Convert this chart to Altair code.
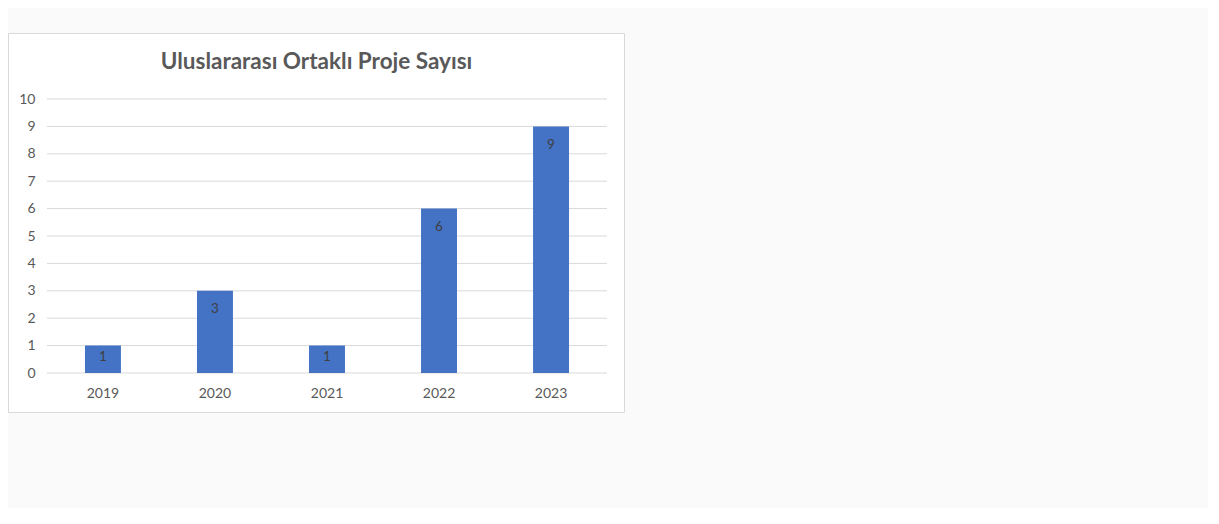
import altair as alt
import pandas as pd

years = ["2019", "2020", "2021", "2022", "2023"]
counts = [1, 3, 1, 6, 9]
tick_values = list(range(0, 11))
title_text = "Uluslararası Ortaklı Proje Sayısı"

FONT = "Lato"
GRAY = "#595959"

df = pd.DataFrame({"year": years, "count": counts})
grid_df = pd.DataFrame({"v": tick_values})
one = pd.DataFrame({"k": [0]})

yscale = alt.Scale(domain=[0, 10], nice=False)
yaxis = alt.Axis(title=None, values=tick_values, grid=False, domain=False, ticks=False,
                 labelPadding=12, labelFont=FONT, labelFontSize=14, labelColor=GRAY, zindex=2)
xaxis = alt.Axis(title=None, labelAngle=0, ticks=False, domain=False, labelPadding=13,
                 labelFont=FONT, labelFontSize=14, labelColor=GRAY, zindex=2)
xscale = alt.Scale(paddingInner=0.679, paddingOuter=0.339)

box = alt.Chart(one).mark_rect(fill="white", stroke="#d9d9d9", strokeWidth=1).encode(
    x=alt.value(-38.5), x2=alt.value(577.5), y=alt.value(-65.5), y2=alt.value(313.5)
)

grid = alt.Chart(grid_df).mark_rule(color="#d9d9d9", strokeWidth=1).encode(
    y=alt.Y("v:Q", scale=yscale, axis=yaxis)
)

bars = alt.Chart(df).mark_bar(color="#4472C4").encode(
    x=alt.X("year:N", sort=years, scale=xscale, axis=xaxis),
    y=alt.Y("count:Q", scale=yscale, axis=yaxis),
)

labels = alt.Chart(df).transform_calculate(
    lp="max(datum.count - 0.68, datum.count * 0.6)"
).mark_text(font=FONT, fontSize=13.5, color="#404040", baseline="middle").encode(
    x=alt.X("year:N", sort=years, scale=xscale, axis=xaxis),
    y=alt.Y("lp:Q", scale=yscale, axis=yaxis),
    text=alt.Text("count:Q"),
)

title = alt.Chart(one).mark_text(
    text=title_text, font=FONT, fontSize=22.5, fontWeight="bold", color=GRAY,
    align="center", baseline="middle"
).encode(x=alt.value(269.5), y=alt.value(-37))

chart = alt.layer(box, grid, bars, labels, title).properties(
    width=560, height=274,
    padding={"left": 39, "top": 91, "right": 601, "bottom": 135},
    autosize=alt.AutoSizeParams(type="none"),
    background="#fafafa",
).configure_view(strokeWidth=0)

chart.save("out.html", embed_options={"renderer": "svg", "actions": False})
